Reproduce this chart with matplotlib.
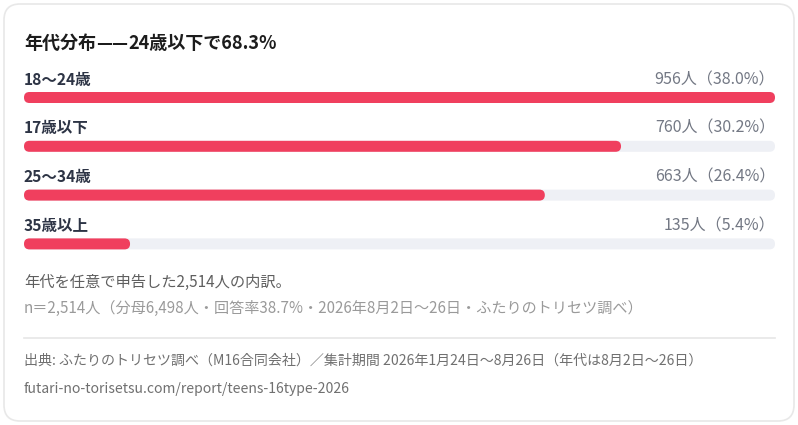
import matplotlib
matplotlib.use("Agg")
import matplotlib.pyplot as plt
from matplotlib.patches import FancyBboxPatch

plt.rcParams["font.family"] = ["Noto Sans CJK JP", "DejaVu Sans"]

# data
title_parts = ["年代分布", "——", "24歳以下で68.3%"]
categories = ["18〜24歳", "17歳以下", "25〜34歳", "35歳以上"]
counts = [956, 760, 663, 135]
shares = [38.0, 30.2, 26.4, 5.4]
note = "年代を任意で申告した2,514人の内訳。"
sample = "n＝2,514人（分母6,498人・回答率38.7%・2026年8月2日〜26日・ふたりのトリセツ調べ）"
source = "出典: ふたりのトリセツ調べ（M16合同会社）／集計期間 2026年1月24日〜8月26日（年代は8月2日〜26日）"
url = "futari-no-torisetsu.com/report/teens-16type-2026"

W, H = 798, 425
BAR_RED = "#F03F5E"
TRACK = "#EEF0F5"

fig = plt.figure(figsize=(W / 100, H / 100), dpi=100)
fig.patch.set_facecolor("white")

# background axes in pixel coordinates for card and text
bg = fig.add_axes([0, 0, 1, 1])
bg.set_xlim(0, W)
bg.set_ylim(H, 0)
bg.axis("off")

card = FancyBboxPatch((4, 4), W - 8, H - 8,
                      boxstyle="round,pad=0,rounding_size=16",
                      facecolor="white", edgecolor="#E8E8E8", lw=1.2)
bg.add_patch(card)

# title, with the dash in DejaVu so the two em dashes join up
t = bg.text(24, 43, title_parts[0], fontsize=13, fontweight="bold",
            color="#1C1C1C", va="center", ha="left")
t = bg.annotate(title_parts[1], xy=(1, 0.5), xycoords=t, va="center",
                ha="left", fontsize=11.5, fontweight="bold", color="#1C1C1C",
                family="DejaVu Sans")
bg.annotate(title_parts[2], xy=(1, 0.5), xycoords=t, va="center", ha="left",
            fontsize=13, fontweight="bold", color="#1C1C1C")

# bar axes: x spans 24..775 px, rows spaced ~48.8 px starting at 97.5
x0_px, x1_px = 24, 775
row_h = 48.8
top_px = 97.5 - row_h / 2
ax = fig.add_axes([x0_px / W, 1 - (top_px + row_h * 4) / H,
                   (x1_px - x0_px) / W, row_h * 4 / H])
ax.set_xlim(0, max(counts))
ax.set_ylim(3.5, -0.5)
ax.axis("off")

bar_h_px = 11
bar_h = bar_h_px / row_h
px_x = max(counts) / (x1_px - x0_px)  # data units per px in x
aspect = (1 / row_h) / px_x
radius = (bar_h_px / 2) * px_x

for i, (cat, n, s) in enumerate(zip(categories, counts, shares)):
    ax.add_patch(FancyBboxPatch((0, i - bar_h / 2), max(counts), bar_h,
                                boxstyle=f"round,pad=0,rounding_size={radius}",
                                mutation_aspect=aspect, facecolor=TRACK,
                                edgecolor="none"))
    ax.add_patch(FancyBboxPatch((0, i - bar_h / 2), n, bar_h,
                                boxstyle=f"round,pad=0,rounding_size={radius}",
                                mutation_aspect=aspect, facecolor=BAR_RED,
                                edgecolor="none"))
    ax.text(0, i - 18 / row_h, cat, fontsize=11.2, fontweight="bold",
            color="#2D3445", va="center", ha="left")
    ax.text(max(counts), i - 18 / row_h, f"{n}人（{s:.1f}%）", fontsize=11.5,
            color="#737884", va="center", ha="right")

bg.text(24, 282, note, fontsize=11, color="#5F5F5F", va="center", ha="left")
bg.text(24, 308, sample, fontsize=10.9, color="#9A9A9A", va="center", ha="left")
bg.plot([24, 775], [338, 338], color="#E6E6E6", lw=1.2)
bg.text(24, 361, source, fontsize=10.1, color="#707070", va="center", ha="left")
bg.text(24, 389, url, fontsize=10.1, color="#707070", va="center", ha="left")

fig.savefig("out.png", dpi=100, facecolor="white")
